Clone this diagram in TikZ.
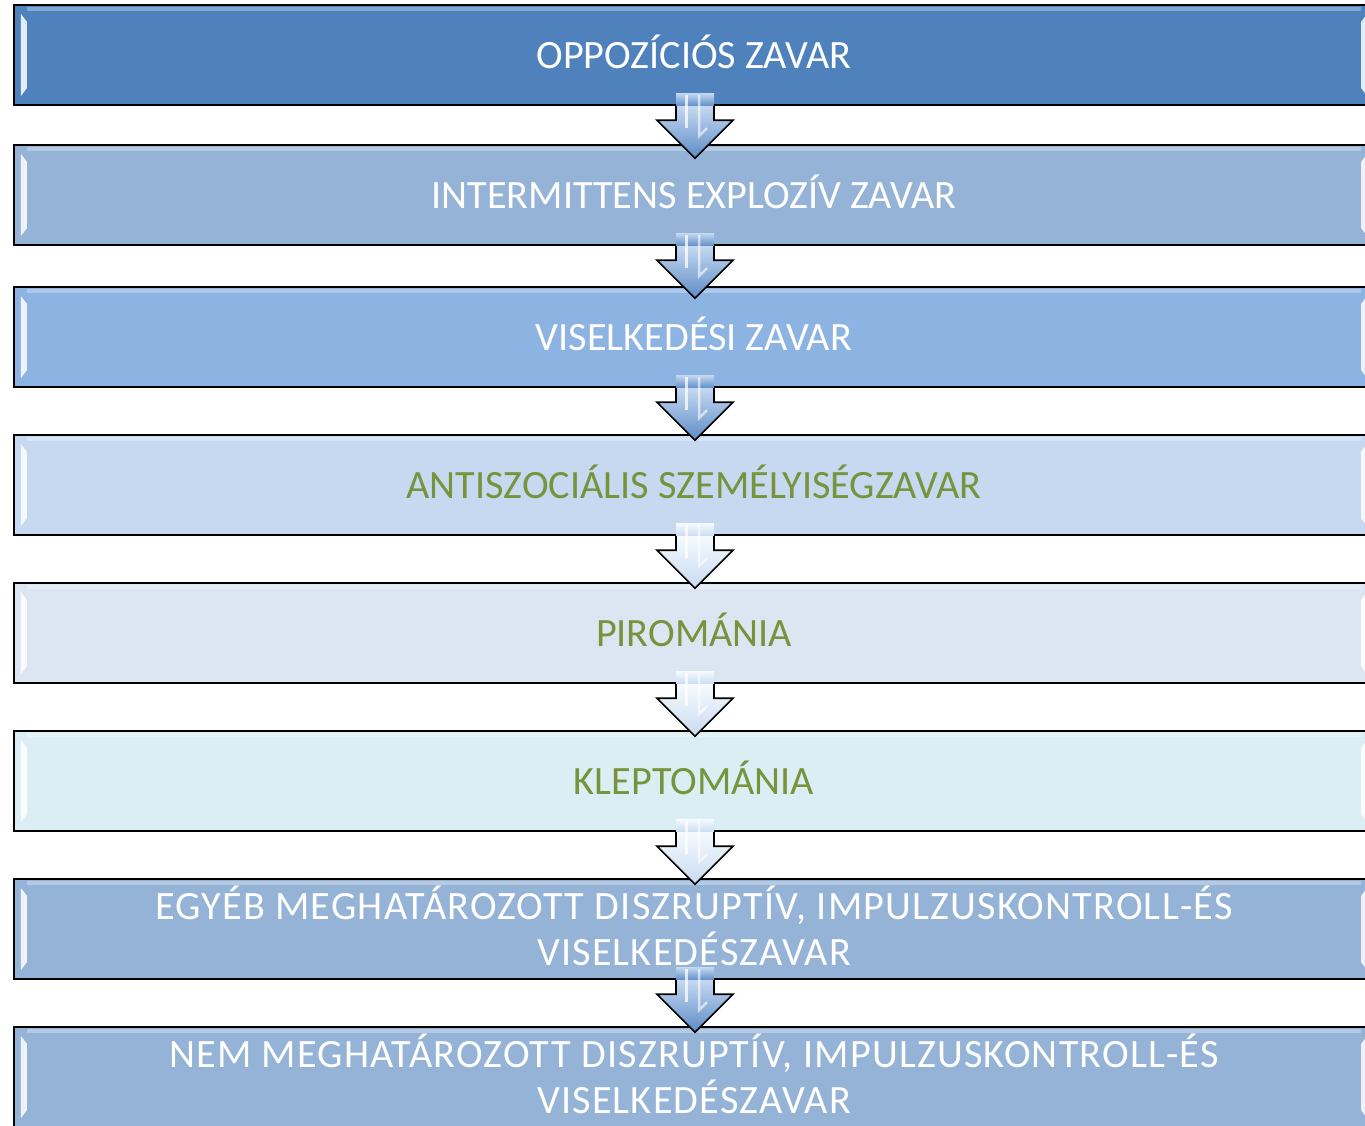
\documentclass[tikz,border=0pt]{standalone}
\usepackage{fontspec}
\setmainfont{Carlito}
\usetikzlibrary{calc}

\newlength{\du}
\setlength{\du}{0.5pt}

\definecolor{boxdark}{HTML}{4F81BD}
\definecolor{boxmid}{HTML}{95B3D7}
\definecolor{boxsky}{HTML}{8DB3E2}
\definecolor{boxpale}{HTML}{C6D9F1}
\definecolor{boxmist}{HTML}{DCE6F2}
\definecolor{boxaqua}{HTML}{DBEEF3}
\definecolor{textgreen}{HTML}{77933C}
\definecolor{arrowlight}{HTML}{C4D8F0}
\definecolor{arrowdeep}{HTML}{5E8CC6}
\definecolor{arrowwhite}{HTML}{F6FAFE}
\definecolor{arrowpale}{HTML}{C8DBF0}

\tikzset{
  stagebox/.style={draw=black, line width=2.4\du, minimum width=1360\du,
    minimum height=100\du, inner sep=0pt, align=center, text=white,
    text height=16pt, text depth=3pt,
    font=\fontsize{20.1pt}{23pt}\selectfont},
  twoline/.style={text height=39pt,
    font=\fontsize{20.1pt}{23pt}\selectfont\addfontfeature{LetterSpace=3}},
  greentext/.style={text=textgreen}
}

% bevel highlights on a box
\newcommand{\boxbevel}[1]{%
  \fill[white, opacity=0.85] ($(#1.north west)+(8,10)$) -- ($(#1.north west)+(14,18)$)
    -- ($(#1.south west)+(14,-18)$) -- ($(#1.south west)+(8,-10)$) -- cycle;
  \fill[white, opacity=0.85] ($(#1.north east)+(-8,10)$) -- ($(#1.north east)+(-14,18)$)
    -- ($(#1.south east)+(-14,-18)$) -- ($(#1.south east)+(-8,-10)$) -- cycle;
  \draw[white, opacity=0.3, line width=4\du] ($(#1.north west)+(14,5)$) -- ($(#1.north east)+(-14,5)$);
}

% block arrow hanging from the bottom of a box
\newcommand{\stagearrow}[3]{%
  \coordinate (#1-tail) at ($(#1.south)+(1,0)$);
  \shade[top color=#2, bottom color=#3] ($(#1-tail)+(-19,-13)$) rectangle ($(#1-tail)+(19,0)$);
  \shade[top color=#2, bottom color=#3, draw=black, line width=1.6\du, line join=miter]
    ($(#1-tail)+(-19,0)$) -- ++(0,14) -- ++(-19,0) -- ($(#1-tail)+(0,52)$)
    -- ($(#1-tail)+(38,14)$) -- ++(-19,0) -- ($(#1-tail)+(19,0)$);
  \draw[white, opacity=0.75, line width=3\du] ($(#1-tail)+(-9,-11)$) -- ($(#1-tail)+(-9,22)$);
  \draw[white, opacity=0.6, line width=2.5\du] ($(#1-tail)+(4,-11)$) -- ($(#1-tail)+(4,30)$) -- ($(#1-tail)+(12,22)$);
}

\begin{document}
\begin{tikzpicture}[x=1\du, y=-1\du]
\path[use as bounding box] (0,0) rectangle (1365,1125);
\clip (0,0) rectangle (1365,1125);

\node[stagebox, fill=boxdark] (oppoz) at (694,55) {OPPOZÍCIÓS ZAVAR};
\node[stagebox, fill=boxmid] (interm) at (694,195) {INTERMITTENS EXPLOZÍV ZAVAR};
\node[stagebox, fill=boxsky] (viselk) at (694,337) {VISELKEDÉSI ZAVAR};
\node[stagebox, fill=boxpale, greentext] (antisz) at (694,485) {ANTISZOCIÁLIS SZEMÉLYISÉGZAVAR};
\node[stagebox, fill=boxmist, greentext] (pirom) at (694,633) {PIROMÁNIA};
\node[stagebox, fill=boxaqua, greentext] (klept) at (694,781) {KLEPTOMÁNIA};
\node[stagebox, twoline, fill=boxmid] (egyeb) at (694,929) {EGYÉB MEGHATÁROZOTT DISZRUPTÍV, IMPULZUSKONTROLL-ÉS\\VISELKEDÉSZAVAR};
\node[stagebox, twoline, fill=boxmid] (nemmeg) at (694,1077) {NEM MEGHATÁROZOTT DISZRUPTÍV, IMPULZUSKONTROLL-ÉS\\VISELKEDÉSZAVAR};

\foreach \b in {oppoz,interm,viselk,antisz,pirom,klept,egyeb,nemmeg}
  {\boxbevel{\b}}

% arrows between the boxes
\stagearrow{oppoz}{arrowlight}{arrowdeep}
\stagearrow{interm}{arrowlight}{arrowdeep}
\stagearrow{viselk}{arrowlight}{arrowdeep}
\stagearrow{antisz}{arrowwhite}{arrowpale}
\stagearrow{pirom}{arrowwhite}{arrowpale}
\stagearrow{klept}{arrowwhite}{arrowpale}
\stagearrow{egyeb}{arrowlight}{arrowdeep}
\end{tikzpicture}
\end{document}
